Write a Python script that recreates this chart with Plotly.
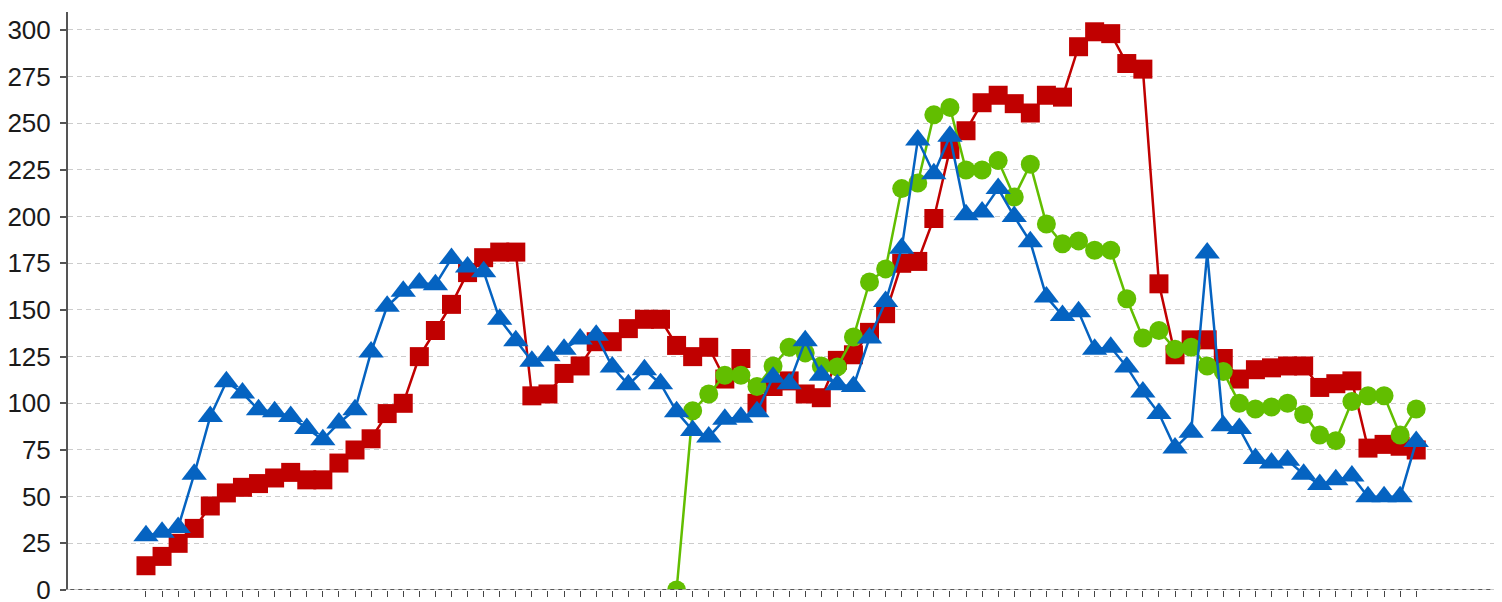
import plotly.graph_objects as go

# ---- data ----
categories = list(range(80))

series_red = [13, 18, 25, 33, 45, 52, 55, 57, 60, 63,
              59, 59, 68, 75, 81, 94.5, 100, 125, 139, 153,
              170, 178, 181, 181, 104, 105, 116, 120, 133, 133,
              140, 145, 145, 131, 125, 130, 113, 124, 100, 109,
              112, 105, 103, 123, 126, 138, 148, 175, 176, 199,
              236, 246, 261, 265, 260.5, 255.5, 265, 264, 291, 299,
              298, 282, 279, 164, 126, 134, 134, 124, 113, 118,
              119, 120, 120, 108.5, 110.5, 112, 76, 78, 77, 75]

series_blue = [29, 31, 33.5, 62, 93, 111.5, 105.5, 96.5, 95.5, 93,
               86.5, 80.5, 89.5, 96.5, 127.5, 152, 160, 164.5, 163.5, 177.5,
               173, 170.5, 145, 133.5, 122.5, 125.5, 129, 134.5, 136.5, 119.5,
               110, 118, 110.5, 95.5, 85.5, 82, 91.5, 92.5, 95.5, 114,
               110.5, 133.5, 115, 110, 109, 135, 154.5, 183, 241, 223,
               243, 201, 202.5, 215, 200, 186.5, 157, 147, 149, 129,
               130, 119.5, 106, 94.5, 76, 84.5, 180.5, 88, 86.5, 70.5,
               68, 69.5, 62, 56.5, 59, 61, 50, 50, 50, 79.5]

series_green = [None] * 33 + [0, 96, 105, 115, 115, 109, 120, 130, 127, 120,
                              119.5, 135.5, 165, 172, 215, 218, 254.5, 258.5, 225, 225,
                              230, 210.5, 228, 196, 185.5, 187, 182, 182, 156, 135,
                              139, 129, 130, 120, 117, 100, 97, 98, 100, 94,
                              83, 80, 101, 104, 104, 83, 97]

y_ticks = [0, 25, 50, 75, 100, 125, 150, 175, 200, 225, 250, 275, 300]

RED = "#C00000"
GREEN = "#62BE00"
BLUE = "#0563C1"

fig = go.Figure()
fig.add_trace(go.Scatter(x=categories, y=series_red, mode="lines+markers",
                         line=dict(color=RED, width=2.5),
                         marker=dict(symbol="square", size=19, color=RED),
                         showlegend=False))
fig.add_trace(go.Scatter(x=categories, y=series_green, mode="lines+markers",
                         line=dict(color=GREEN, width=2.5),
                         marker=dict(symbol="circle", size=19, color=GREEN),
                         connectgaps=False, showlegend=False))
fig.add_trace(go.Scatter(x=categories, y=series_blue, mode="lines+markers",
                         line=dict(color=BLUE, width=2.5),
                         marker=dict(symbol="triangle-up", size=22, color=BLUE),
                         showlegend=False))

# x axis line: light solid line with dark dashes on top
fig.add_shape(type="line", xref="paper", yref="y", x0=-0.004, x1=1, y0=0, y1=0,
              line=dict(color="#bbbbbb", width=1.5), layer="above")
fig.add_shape(type="line", xref="paper", yref="y", x0=-0.004, x1=1, y0=0, y1=0,
              line=dict(color="#333333", width=1.5, dash="4px,4px"), layer="above")

fig.update_layout(
    width=1494, height=594,
    margin=dict(l=60, r=7, t=4, b=12, autoexpand=False),
    paper_bgcolor="white", plot_bgcolor="white",
    font=dict(family="Liberation Sans, Arial, sans-serif", color="#1a1a1a"),
    xaxis=dict(type="linear", range=[-4.85, 83.9], automargin=False,
               tickmode="array", tickvals=categories,
               showticklabels=False, ticks="outside", ticklen=6,
               tickwidth=1.2, tickcolor="#444444",
               showgrid=False, zeroline=False, showline=False),
    yaxis=dict(range=[0, 309.6], tickmode="array", tickvals=y_ticks, automargin=False,
               showgrid=True, gridcolor="#cccccc", gridwidth=1, griddash="5px,4px",
               zeroline=False, showline=True, linecolor="#555555", linewidth=2,
               ticks="outside", ticklen=6, tickwidth=1.5, tickcolor="#555555",
               tickfont=dict(size=26, color="#1a1a1a"), ticklabelstandoff=4,
               ticklabeloverflow="allow"),
)

fig.write_html("out.html")
